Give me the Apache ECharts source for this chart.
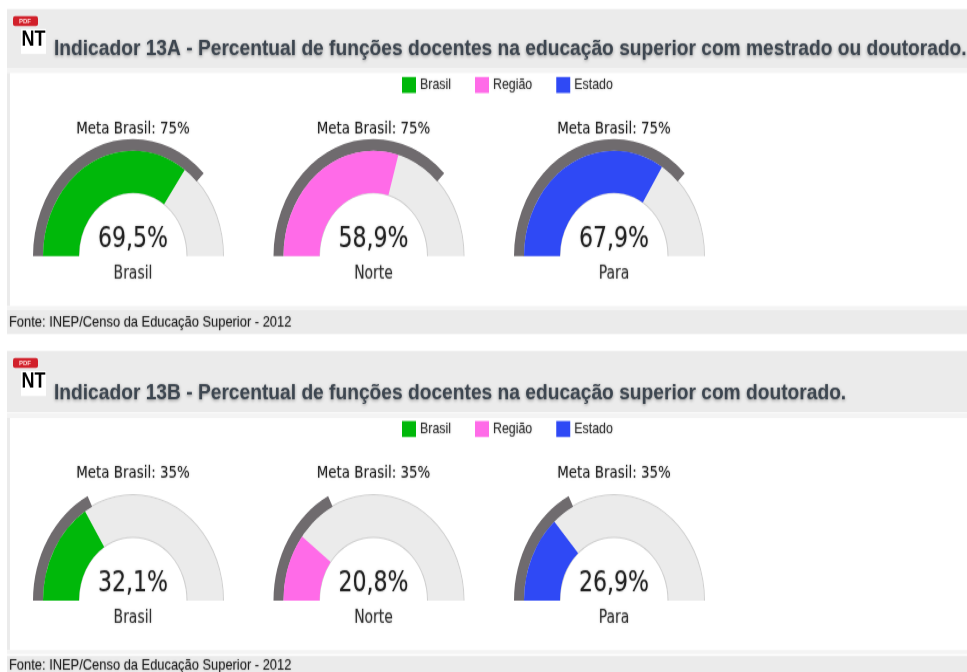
<!DOCTYPE html>
<html><head><meta charset="utf-8">
<style>html,body{margin:0;padding:0;background:#fff;height:672px;overflow:hidden}#c{width:967px;height:574px;transform-origin:0 0;transform:scaleY(1.17073)}</style>
<script src="https://cdn.jsdelivr.net/npm/echarts@6/dist/echarts.min.js"></script>
</head><body><div id="c"></div>
<script>
const legendNames = ['Brasil','Região','Estado'];
const places = ['Brasil','Norte','Para'];
const colors = ['#00b80a','#ff6be8','#2f49f5'];
const titleA = 'Indicador 13A - Percentual de funções docentes na educação superior com mestrado ou doutorado.';
const titleB = 'Indicador 13B - Percentual de funções docentes na educação superior com doutorado.';
const sourceText = 'Fonte: INEP/Censo da Educação Superior - 2012';
const valuesA = [69.5,58.9,67.9];
const valuesB = [32.1,20.8,26.9];
const metaA = 75;
const metaB = 35;

const S = 1.17073;
const Y = v => v / S;
const centersX = [133,373.5,614];
const rows = [
 {top:9, cy:256, values:valuesA, meta:metaA, title:titleA, legendTop:77, titleY:50, hdrH:59, panelY:73, panelH:233, footY:310, footH:24, srcY:323},
 {top:351, cy:600.5, values:valuesB, meta:metaB, title:titleB, legendTop:421, titleY:394, hdrH:61, panelY:418, panelH:232, footY:656, footH:16, srcY:666}
];
const FS = 'DejaVu Sans Condensed, DejaVu Sans, sans-serif';
const soft = {textShadowColor:'rgba(0,0,0,0.3)', textShadowBlur:2};
const base = {type:'gauge', startAngle:180, endAngle:0, min:0, max:100, silent:true, animation:false,
  splitLine:{show:false}, axisTick:{show:false}, axisLabel:{show:false}, pointer:{show:false}, anchor:{show:false}};
const series=[], graphic=[], legends=[], titles=[];

function rect(x,y,w,h,fill){graphic.push({type:'rect',silent:true,z:-1,shape:{x,y:Y(y),width:w,height:Y(h)},style:{fill}});}
function icon(top){
  graphic.push({type:'rect',silent:true,z:1,shape:{x:13,y:Y(top+7),width:25,height:Y(10),r:2},style:{fill:'#d1202a'}});
  graphic.push({type:'text',silent:true,z:2,x:25,y:Y(top+12),style:{text:'PDF',fill:'#ffd9d9',font:'bold 6px Liberation Sans',align:'center',verticalAlign:'middle'}});
  graphic.push({type:'rect',silent:true,z:1,shape:{x:21,y:Y(top+20),width:25,height:Y(25)},style:{fill:'#fff'}});
  graphic.push({type:'text',silent:true,z:2,x:33.5,y:Y(top+31),style:{text:'NT',fill:'#000',font:'bold 18px Liberation Sans',align:'center',verticalAlign:'middle'}});
}
rows.forEach(r=>{
  rect(7,r.top,960,r.hdrH,'#ebebeb');
  rect(7,r.panelY-5,960,5,'#f4f4f4');
  rect(7,r.panelY,3,r.panelH,'#ebebeb');
  rect(7,r.panelY+r.panelH,960,4,'#f4f4f4');
  rect(7,r.footY,960,r.footH,'#ebebeb');
  icon(r.top);
  titles.push({text:r.title,left:54,top:Y(r.titleY)-10,padding:0,textStyle:{fontFamily:'Liberation Sans',fontWeight:'bold',fontSize:19.2,color:'#3d4650',textShadowColor:'rgba(0,0,0,0.4)',textShadowBlur:3,textShadowOffsetY:1}});
  titles.push({text:sourceText,left:9,top:Y(r.srcY)-6.5,padding:0,textStyle:Object.assign({fontFamily:'Liberation Sans',fontWeight:'normal',fontSize:12.9,color:'#222'},soft)});
  legends.push({data:legendNames.map((n,i)=>({name:n,icon:'rect',itemStyle:{color:colors[i]}})),left:402,top:Y(r.legendTop),orient:'horizontal',padding:0,
    itemWidth:14,itemHeight:Y(16),itemGap:24,selectedMode:false,
    textStyle:Object.assign({fontFamily:'Liberation Sans',fontSize:12.4,color:'#333',padding:[Y(2),0,0,-1]},soft)});
  r.values.forEach((v,i)=>{
    const center=[centersX[i],Y(r.cy)];
    series.push(Object.assign({},base,{name:'bg',center,radius:90,
      axisLine:{lineStyle:{width:36,color:[[1,'#ebebeb']]}},title:{show:false},detail:{show:false},data:[{value:0}]}));
    series.push(Object.assign({},base,{name:'edgeOut',center,radius:91,
      axisLine:{lineStyle:{width:1,color:[[1,'#cfcfcf']]}},title:{show:false},detail:{show:false},data:[{value:0}]}));
    series.push(Object.assign({},base,{name:'edgeIn',center,radius:54.5,
      axisLine:{lineStyle:{width:1,color:[[1,'#cfcfcf']]}},title:{show:false},detail:{show:false},data:[{value:0}]}));
    series.push(Object.assign({},base,{name:legendNames[i],center,radius:90,itemStyle:{color:colors[i]},
      axisLine:{show:false,lineStyle:{width:36}},progress:{show:true,width:36,itemStyle:{color:colors[i]}},
      title:Object.assign({show:true,offsetCenter:[0,Y(18)],fontFamily:FS,fontSize:15.5,color:'#333'},soft),
      detail:Object.assign({show:true,offsetCenter:[0,Y(-17)],fontFamily:FS,fontSize:24.5,color:'#222',fontWeight:'normal',
        formatter:x=>x.toFixed(1).replace('.',',')+'%'},soft),
      data:[{value:v,name:places[i]}]}));
    series.push(Object.assign({},base,{name:'meta',center,radius:100,
      axisLine:{show:false,lineStyle:{width:10}},progress:{show:true,width:10,itemStyle:{color:'#6f6b6e'}},
      title:Object.assign({show:true,offsetCenter:[0,Y(-127)],fontFamily:FS,fontSize:14.9,color:'#222'},soft),
      detail:{show:false},
      data:[{value:r.meta,name:'Meta Brasil: '+r.meta+'%'}]}));
  });
});
const chart=echarts.init(document.getElementById('c'),null,{renderer:'canvas'});
chart.setOption({animation:false,backgroundColor:'#fff',title:titles,legend:legends,graphic:{elements:graphic},series});
</script></body></html>
